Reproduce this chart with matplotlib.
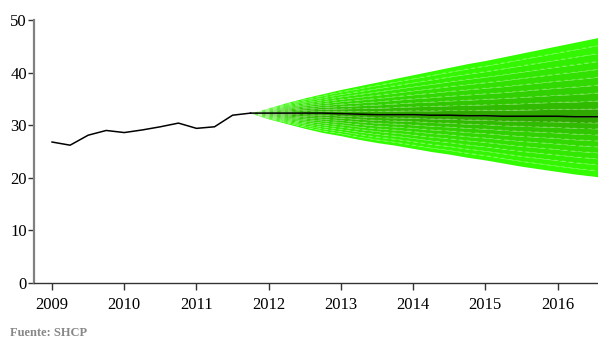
import numpy as np
import matplotlib
matplotlib.use("Agg")
import matplotlib.pyplot as plt

# historical quarterly series (2009Q1 - 2011Q4)
hist_t = [2009.0, 2009.25, 2009.5, 2009.75, 2010.0, 2010.25, 2010.5, 2010.75,
          2011.0, 2011.25, 2011.5, 2011.75]
hist_v = [26.8, 26.2, 28.1, 29.0, 28.6, 29.1, 29.7, 30.4, 29.4, 29.7, 31.9, 32.3]

# forecast fan (2011Q4 onwards)
fc_t = [2011.75, 2012.0, 2012.25, 2012.5, 2012.75, 2013.0, 2013.25, 2013.5, 2013.75,
        2014.0, 2014.25, 2014.5, 2014.75, 2015.0, 2015.25, 2015.5, 2015.75,
        2016.0, 2016.25, 2016.5, 2016.75]
fc_mid = [32.3, 32.3, 32.3, 32.3, 32.3, 32.2, 32.1, 32.0, 32.0, 32.0, 31.9, 31.9,
          31.8, 31.8, 31.7, 31.7, 31.7, 31.7, 31.6, 31.6, 31.6]
fc_hi = [32.3, 33.3, 34.3, 35.2, 36.0, 36.8, 37.5, 38.2, 38.9, 39.6, 40.3, 41.0,
         41.7, 42.3, 43.0, 43.7, 44.4, 45.1, 45.8, 46.5, 47.2]
fc_lo = [32.3, 31.2, 30.3, 29.4, 28.6, 28.0, 27.3, 26.7, 26.2, 25.6, 25.0, 24.5,
         23.9, 23.4, 22.8, 22.2, 21.7, 21.2, 20.7, 20.3, 19.9]

years = [2009, 2010, 2011, 2012, 2013, 2014, 2015, 2016]

plt.rcParams['font.family'] = ['Liberation Serif', 'DejaVu Serif']

fig = plt.figure(figsize=(5.98, 3.41), dpi=100)
ax = fig.add_axes([34 / 598, 1 - 283 / 341, 1 - 34 / 598, (283 - 20) / 341])

t = np.array(fc_t)
mid = np.array(fc_mid)
hi = np.array(fc_hi)
lo = np.array(fc_lo)

# fan bands, bright outside, darker towards the centre
n = 10
outer = np.array([0.20, 1.00, 0.00])
inner = np.array([0.18, 0.58, 0.00])
for i in range(n):
    f0, f1 = i / n, (i + 1) / n
    c = inner + (outer - inner) * ((i + 0.5) / n) ** 0.55
    ax.fill_between(t, mid + (hi - mid) * f0, mid + (hi - mid) * f1,
                    color=c, lw=0, zorder=2)
    ax.fill_between(t, mid - (mid - lo) * f0, mid - (mid - lo) * f1,
                    color=c, lw=0, zorder=2)
    if i > 0:
        ax.plot(t, mid + (hi - mid) * f0, color='white', lw=0.6, alpha=0.3,
                ls=(0, (5, 4)), zorder=3)
        ax.plot(t, mid - (mid - lo) * f0, color='white', lw=0.6, alpha=0.3,
                ls=(0, (5, 4)), zorder=3)

ax.plot(hist_t, hist_v, color='black', lw=1.1, zorder=4)
ax.plot(fc_t, fc_mid, color='black', lw=1.1, zorder=4)

ax.set_xlim(2008.75, 2016.56)
ax.set_ylim(0, 50)
ax.set_yticks(range(0, 51, 10))
ax.set_xticks(years)
ax.set_xticklabels([str(y) for y in years])

for s in ['top', 'right']:
    ax.spines[s].set_visible(False)
ax.spines['left'].set_color('#808080')
ax.spines['left'].set_linewidth(1.6)
ax.spines['bottom'].set_color('#333333')
ax.spines['bottom'].set_linewidth(1.0)
ax.tick_params(axis='y', length=4, width=1, color='#333333', labelsize=12, pad=1)
ax.tick_params(axis='x', length=5, width=1, color='#333333', labelsize=12, pad=5)

fig.text(10 / 598, 1 - 336 / 341, 'Fuente: SHCP', fontsize=9, fontweight='bold',
         color='#888888', ha='left', va='baseline')

fig.savefig('out.png', dpi=100)
